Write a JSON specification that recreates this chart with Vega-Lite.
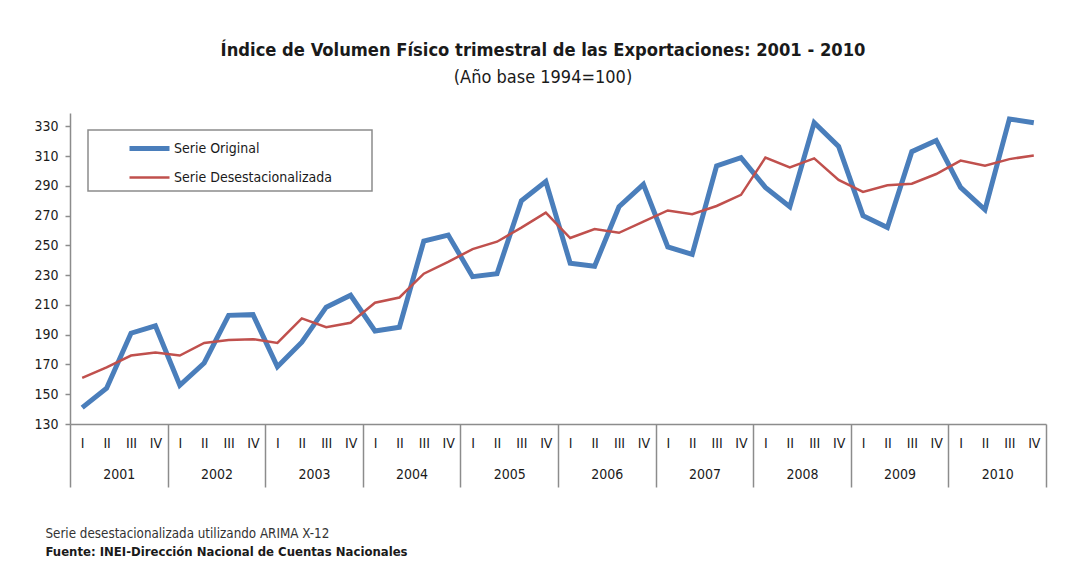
{
  "$schema": "https://vega.github.io/schema/vega-lite/v6.json",
  "width": 976,
  "height": 311,
  "autosize": {"type": "none"},
  "padding": {"left": 70, "top": 113, "right": 20, "bottom": 145},
  "background": "white",
  "config": {
    "view": {"stroke": null},
    "font": "DejaVu Sans Condensed, Liberation Sans"
  },
  "title": {
    "text": "Índice de Volumen Físico trimestral de las Exportaciones: 2001 - 2010",
    "subtitle": "(Año base 1994=100)",
    "anchor": "middle",
    "frame": "group",
    "dx": -15,
    "offset": 21,
    "font": "DejaVu Sans Condensed, Liberation Sans",
    "fontSize": 18.2,
    "fontWeight": "bold",
    "color": "#1a1a1a",
    "subtitleFont": "DejaVu Sans Condensed, Liberation Sans",
    "subtitleFontSize": 18,
    "subtitleColor": "#1a1a1a",
    "subtitlePadding": 9
  },
  "data": {
    "values": [
      {"n": 1, "anio": 2001, "trim": "I", "serie": "Serie Original", "valor": 141},
      {"n": 2, "anio": 2001, "trim": "II", "serie": "Serie Original", "valor": 154},
      {"n": 3, "anio": 2001, "trim": "III", "serie": "Serie Original", "valor": 191},
      {"n": 4, "anio": 2001, "trim": "IV", "serie": "Serie Original", "valor": 196},
      {"n": 5, "anio": 2002, "trim": "I", "serie": "Serie Original", "valor": 156},
      {"n": 6, "anio": 2002, "trim": "II", "serie": "Serie Original", "valor": 171},
      {"n": 7, "anio": 2002, "trim": "III", "serie": "Serie Original", "valor": 203},
      {"n": 8, "anio": 2002, "trim": "IV", "serie": "Serie Original", "valor": 203.5},
      {"n": 9, "anio": 2003, "trim": "I", "serie": "Serie Original", "valor": 168.5},
      {"n": 10, "anio": 2003, "trim": "II", "serie": "Serie Original", "valor": 185},
      {"n": 11, "anio": 2003, "trim": "III", "serie": "Serie Original", "valor": 208.5},
      {"n": 12, "anio": 2003, "trim": "IV", "serie": "Serie Original", "valor": 216.5},
      {"n": 13, "anio": 2004, "trim": "I", "serie": "Serie Original", "valor": 192.5},
      {"n": 14, "anio": 2004, "trim": "II", "serie": "Serie Original", "valor": 195},
      {"n": 15, "anio": 2004, "trim": "III", "serie": "Serie Original", "valor": 253},
      {"n": 16, "anio": 2004, "trim": "IV", "serie": "Serie Original", "valor": 257},
      {"n": 17, "anio": 2005, "trim": "I", "serie": "Serie Original", "valor": 229},
      {"n": 18, "anio": 2005, "trim": "II", "serie": "Serie Original", "valor": 231},
      {"n": 19, "anio": 2005, "trim": "III", "serie": "Serie Original", "valor": 280},
      {"n": 20, "anio": 2005, "trim": "IV", "serie": "Serie Original", "valor": 293},
      {"n": 21, "anio": 2006, "trim": "I", "serie": "Serie Original", "valor": 238},
      {"n": 22, "anio": 2006, "trim": "II", "serie": "Serie Original", "valor": 236},
      {"n": 23, "anio": 2006, "trim": "III", "serie": "Serie Original", "valor": 276},
      {"n": 24, "anio": 2006, "trim": "IV", "serie": "Serie Original", "valor": 291},
      {"n": 25, "anio": 2007, "trim": "I", "serie": "Serie Original", "valor": 249},
      {"n": 26, "anio": 2007, "trim": "II", "serie": "Serie Original", "valor": 244},
      {"n": 27, "anio": 2007, "trim": "III", "serie": "Serie Original", "valor": 303.5},
      {"n": 28, "anio": 2007, "trim": "IV", "serie": "Serie Original", "valor": 309},
      {"n": 29, "anio": 2008, "trim": "I", "serie": "Serie Original", "valor": 289},
      {"n": 30, "anio": 2008, "trim": "II", "serie": "Serie Original", "valor": 276},
      {"n": 31, "anio": 2008, "trim": "III", "serie": "Serie Original", "valor": 332.5},
      {"n": 32, "anio": 2008, "trim": "IV", "serie": "Serie Original", "valor": 316.5},
      {"n": 33, "anio": 2009, "trim": "I", "serie": "Serie Original", "valor": 270},
      {"n": 34, "anio": 2009, "trim": "II", "serie": "Serie Original", "valor": 262},
      {"n": 35, "anio": 2009, "trim": "III", "serie": "Serie Original", "valor": 313},
      {"n": 36, "anio": 2009, "trim": "IV", "serie": "Serie Original", "valor": 320.5},
      {"n": 37, "anio": 2010, "trim": "I", "serie": "Serie Original", "valor": 289},
      {"n": 38, "anio": 2010, "trim": "II", "serie": "Serie Original", "valor": 274},
      {"n": 39, "anio": 2010, "trim": "III", "serie": "Serie Original", "valor": 335},
      {"n": 40, "anio": 2010, "trim": "IV", "serie": "Serie Original", "valor": 332.5},
      {"n": 1, "anio": 2001, "trim": "I", "serie": "Serie Desestacionalizada", "valor": 161},
      {"n": 2, "anio": 2001, "trim": "II", "serie": "Serie Desestacionalizada", "valor": 168},
      {"n": 3, "anio": 2001, "trim": "III", "serie": "Serie Desestacionalizada", "valor": 176},
      {"n": 4, "anio": 2001, "trim": "IV", "serie": "Serie Desestacionalizada", "valor": 178},
      {"n": 5, "anio": 2002, "trim": "I", "serie": "Serie Desestacionalizada", "valor": 176},
      {"n": 6, "anio": 2002, "trim": "II", "serie": "Serie Desestacionalizada", "valor": 184.5},
      {"n": 7, "anio": 2002, "trim": "III", "serie": "Serie Desestacionalizada", "valor": 186.5},
      {"n": 8, "anio": 2002, "trim": "IV", "serie": "Serie Desestacionalizada", "valor": 187},
      {"n": 9, "anio": 2003, "trim": "I", "serie": "Serie Desestacionalizada", "valor": 184.5},
      {"n": 10, "anio": 2003, "trim": "II", "serie": "Serie Desestacionalizada", "valor": 201},
      {"n": 11, "anio": 2003, "trim": "III", "serie": "Serie Desestacionalizada", "valor": 195},
      {"n": 12, "anio": 2003, "trim": "IV", "serie": "Serie Desestacionalizada", "valor": 198},
      {"n": 13, "anio": 2004, "trim": "I", "serie": "Serie Desestacionalizada", "valor": 211.5},
      {"n": 14, "anio": 2004, "trim": "II", "serie": "Serie Desestacionalizada", "valor": 215},
      {"n": 15, "anio": 2004, "trim": "III", "serie": "Serie Desestacionalizada", "valor": 231},
      {"n": 16, "anio": 2004, "trim": "IV", "serie": "Serie Desestacionalizada", "valor": 239},
      {"n": 17, "anio": 2005, "trim": "I", "serie": "Serie Desestacionalizada", "valor": 247.5},
      {"n": 18, "anio": 2005, "trim": "II", "serie": "Serie Desestacionalizada", "valor": 252.5},
      {"n": 19, "anio": 2005, "trim": "III", "serie": "Serie Desestacionalizada", "valor": 262},
      {"n": 20, "anio": 2005, "trim": "IV", "serie": "Serie Desestacionalizada", "valor": 272},
      {"n": 21, "anio": 2006, "trim": "I", "serie": "Serie Desestacionalizada", "valor": 255},
      {"n": 22, "anio": 2006, "trim": "II", "serie": "Serie Desestacionalizada", "valor": 261},
      {"n": 23, "anio": 2006, "trim": "III", "serie": "Serie Desestacionalizada", "valor": 258.5},
      {"n": 24, "anio": 2006, "trim": "IV", "serie": "Serie Desestacionalizada", "valor": 266},
      {"n": 25, "anio": 2007, "trim": "I", "serie": "Serie Desestacionalizada", "valor": 273.5},
      {"n": 26, "anio": 2007, "trim": "II", "serie": "Serie Desestacionalizada", "valor": 271},
      {"n": 27, "anio": 2007, "trim": "III", "serie": "Serie Desestacionalizada", "valor": 276.5},
      {"n": 28, "anio": 2007, "trim": "IV", "serie": "Serie Desestacionalizada", "valor": 284},
      {"n": 29, "anio": 2008, "trim": "I", "serie": "Serie Desestacionalizada", "valor": 309},
      {"n": 30, "anio": 2008, "trim": "II", "serie": "Serie Desestacionalizada", "valor": 302.5},
      {"n": 31, "anio": 2008, "trim": "III", "serie": "Serie Desestacionalizada", "valor": 308.5},
      {"n": 32, "anio": 2008, "trim": "IV", "serie": "Serie Desestacionalizada", "valor": 294},
      {"n": 33, "anio": 2009, "trim": "I", "serie": "Serie Desestacionalizada", "valor": 286},
      {"n": 34, "anio": 2009, "trim": "II", "serie": "Serie Desestacionalizada", "valor": 290.5},
      {"n": 35, "anio": 2009, "trim": "III", "serie": "Serie Desestacionalizada", "valor": 291.5},
      {"n": 36, "anio": 2009, "trim": "IV", "serie": "Serie Desestacionalizada", "valor": 298},
      {"n": 37, "anio": 2010, "trim": "I", "serie": "Serie Desestacionalizada", "valor": 307},
      {"n": 38, "anio": 2010, "trim": "II", "serie": "Serie Desestacionalizada", "valor": 303.5},
      {"n": 39, "anio": 2010, "trim": "III", "serie": "Serie Desestacionalizada", "valor": 308},
      {"n": 40, "anio": 2010, "trim": "IV", "serie": "Serie Desestacionalizada", "valor": 310.5}
    ]
  },
  "resolve": {"axis": {"x": "independent"}},
  "layer": [
    {
      "mark": {"type": "line", "strokeJoin": "miter", "strokeCap": "butt"},
      "encoding": {
        "x": {
          "field": "n",
          "type": "quantitative",
          "scale": {"domain": [0.5, 40.5], "nice": false, "zero": false},
          "axis": {
            "orient": "bottom",
            "values": [1,2,3,4,5,6,7,8,9,10,11,12,13,14,15,16,17,18,19,20,21,22,23,24,25,26,27,28,29,30,31,32,33,34,35,36,37,38,39,40],
            "labelExpr": "['I','II','III','IV'][(datum.value - 1) % 4]",
            "ticks": false,
            "grid": false,
            "domain": true,
            "domainColor": "#8c8c8c",
            "domainWidth": 1.5,
            "labelFont": "DejaVu Sans Condensed, Liberation Sans",
            "labelFontSize": 14,
            "labelColor": "#1a1a1a",
            "labelPadding": 12,
            "labelOverlap": false,
            "labelFlush": false,
            "labelBound": false,
            "title": "Serie desestacionalizada utilizando ARIMA X-12",
            "titleFont": "DejaVu Sans Condensed, Liberation Sans",
            "titleFontSize": 13.3,
            "titleFontWeight": "normal",
            "titleColor": "#333333",
            "titleAlign": "left",
            "titleAnchor": "start",
            "titleBaseline": "middle",
            "titleX": -25,
            "titleY": 109
          }
        },
        "y": {
          "field": "valor",
          "type": "quantitative",
          "scale": {"domain": [130, 339], "nice": false, "zero": false},
          "axis": {
            "values": [130,150,170,190,210,230,250,270,290,310,330],
            "title": null,
            "grid": false,
            "domainColor": "#8c8c8c",
            "domainWidth": 1.5,
            "tickColor": "#8c8c8c",
            "tickSize": 5,
            "tickWidth": 1.5,
            "labelFont": "DejaVu Sans Condensed, Liberation Sans",
            "labelFontSize": 14,
            "labelColor": "#1a1a1a",
            "labelPadding": 7,
            "labelOverlap": false,
            "labelFlush": false,
            "labelBound": false
          }
        },
        "color": {
          "field": "serie",
          "type": "nominal",
          "sort": ["Serie Original", "Serie Desestacionalizada"],
          "scale": {"domain": ["Serie Original", "Serie Desestacionalizada"], "range": ["#4a7ebb", "#c0504d"]},
          "legend": {
            "title": null,
            "orient": "none",
            "legendX": 18,
            "legendY": 17,
            "symbolType": "M-2,0H2M20.6,0",
            "symbolSize": 400,
            "symbolStrokeWidth": 1.5,
            "symbolOffset": 43,
            "labelFont": "DejaVu Sans Condensed, Liberation Sans",
            "labelFontSize": 14,
            "labelColor": "#1a1a1a",
            "labelOffset": 12,
            "labelLimit": 400,
            "rowPadding": 7,
            "padding": 6,
            "strokeColor": "#8c8c8c",
            "fillColor": "white",
            "encode": {
              "symbols": {"update": {"strokeWidth": {"signal": "datum.value === 'Serie Original' ? 5 : 2.5"}}},
              "legend": {"update": {"strokeWidth": {"value": 1.5}}}
            }
          }
        },
        "strokeWidth": {
          "field": "serie",
          "type": "nominal",
          "scale": {"domain": ["Serie Original", "Serie Desestacionalizada"], "range": [5, 2.5]},
          "legend": null
        }
      }
    },
    {
      "mark": {"type": "point", "opacity": 0},
      "encoding": {
        "x": {
          "field": "n",
          "type": "quantitative",
          "axis": {
            "orient": "bottom",
            "values": [0.5,2.5,4.5,6.5,8.5,10.5,12.5,14.5,16.5,18.5,20.5,22.5,24.5,26.5,28.5,30.5,32.5,34.5,36.5,38.5,40.5],
            "labelExpr": "(datum.value - 0.5) % 4 == 0 ? '' : '' + (2001 + floor((datum.value - 0.5) / 4))",
            "grid": false,
            "domain": false,
            "ticks": true,
            "tickSize": 63,
            "tickWidth": 1.5,
            "tickColor": "#8c8c8c",
            "tickOpacity": {"condition": {"test": "(datum.value - 0.5) % 4 == 0", "value": 1}, "value": 0},
            "labelFont": "DejaVu Sans Condensed, Liberation Sans",
            "labelFontSize": 14,
            "labelColor": "#1a1a1a",
            "labelPadding": -20,
            "labelOverlap": false,
            "labelFlush": false,
            "labelBound": false,
            "title": "Fuente: INEI-Dirección Nacional de Cuentas Nacionales",
            "titleFont": "DejaVu Sans Condensed, Liberation Sans",
            "titleFontSize": 13,
            "titleFontWeight": "bold",
            "titleColor": "#1a1a1a",
            "titleAlign": "left",
            "titleAnchor": "start",
            "titleBaseline": "middle",
            "titleX": -25,
            "titleY": 127
          }
        },
        "y": {
          "field": "valor",
          "type": "quantitative",
          "axis": {
            "values": [130,150,170,190,210,230,250,270,290,310,330],
            "title": null,
            "grid": false,
            "domainColor": "#8c8c8c",
            "domainWidth": 1.5,
            "tickColor": "#8c8c8c",
            "tickSize": 5,
            "tickWidth": 1.5,
            "labelFont": "DejaVu Sans Condensed, Liberation Sans",
            "labelFontSize": 14,
            "labelColor": "#1a1a1a",
            "labelPadding": 7,
            "labelOverlap": false,
            "labelFlush": false,
            "labelBound": false
          }
        }
      }
    }
  ]
}
